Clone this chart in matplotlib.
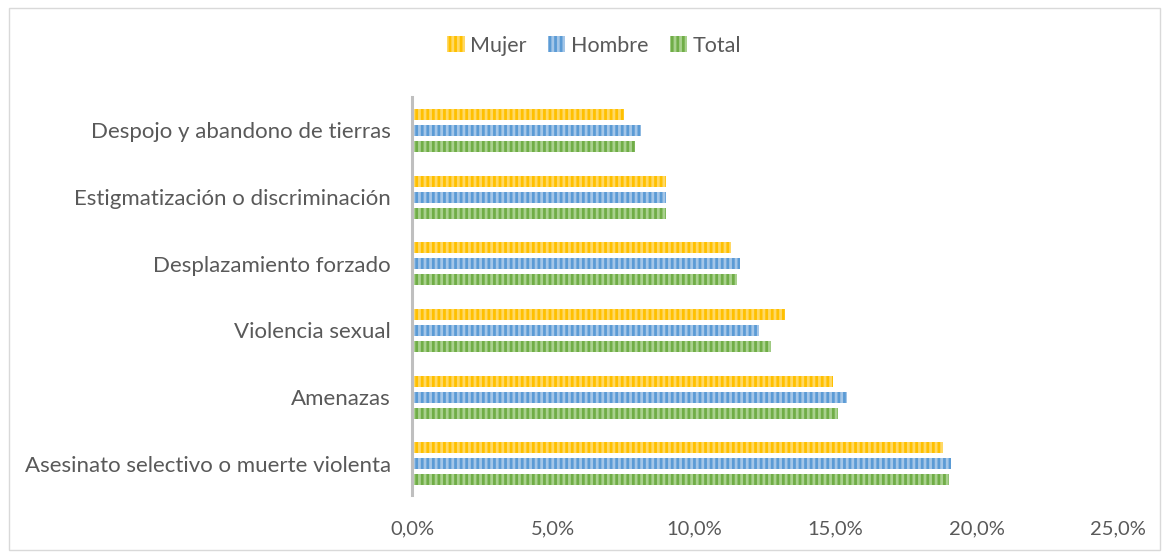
import numpy as np
import matplotlib.pyplot as plt
from matplotlib.patches import Rectangle
from matplotlib.ticker import FuncFormatter

plt.rcParams['font.family'] = ['Lato', 'DejaVu Sans']
plt.rcParams['hatch.linewidth'] = 2.0

categories = ['Asesinato selectivo o muerte violenta', 'Amenazas', 'Violencia sexual',
              'Desplazamiento forzado', 'Estigmatización o discriminación',
              'Despojo y abandono de tierras']
mujer = [18.8, 14.9, 13.2, 11.3, 9.0, 7.5]
hombre = [19.1, 15.4, 12.3, 11.6, 9.0, 8.1]
total = [19.0, 15.1, 12.7, 11.5, 9.0, 7.9]

series = [('Mujer', mujer, '#FFC000', '#FFD966', 0.24),
          ('Hombre', hombre, '#5B9BD5', '#A4C6E8', 0.0),
          ('Total', total, '#70AD47', '#A9D18E', -0.24)]

fig = plt.figure(figsize=(11.65, 5.56), dpi=100)
ax = fig.add_axes([0.3536, 0.1097, 0.6061, 0.7158])

y = np.arange(len(categories))
handles = []
for name, vals, col, light, off in series:
    b = ax.barh(y + off, vals, height=0.165, color=col, edgecolor=light,
                hatch='|||', linewidth=0, label=name)
    handles.append(b)

ax.set_xlim(0, 25)
ax.set_ylim(-0.47, 5.5)
ax.set_xticks(np.arange(0, 26, 5))
ax.xaxis.set_major_formatter(FuncFormatter(lambda v, p: f'{v:.1f}%'.replace('.', ',')))
ax.set_yticks(y)
ax.set_yticklabels(categories)
ax.tick_params(length=0, labelcolor='#595959')
ax.tick_params(axis='y', pad=15, labelsize=16)
ax.tick_params(axis='x', pad=18, labelsize=14.5)
for s in ['top', 'right', 'bottom']:
    ax.spines[s].set_visible(False)
ax.spines['left'].set_color('#BFBFBF')
ax.spines['left'].set_linewidth(2.2)

fig.legend(handles=handles, loc='center', bbox_to_anchor=(0.510, 0.918), ncol=3,
           frameon=False, fontsize=15.5, handlelength=0.8, handleheight=0.8,
           handletextpad=0.25, columnspacing=1.0, labelcolor='#595959')

fig.patches.append(Rectangle((0.008, 0.011), 0.988, 0.975, transform=fig.transFigure,
                             fill=False, edgecolor='#D9D9D9', linewidth=1))

fig.savefig('out.png', dpi=100)
